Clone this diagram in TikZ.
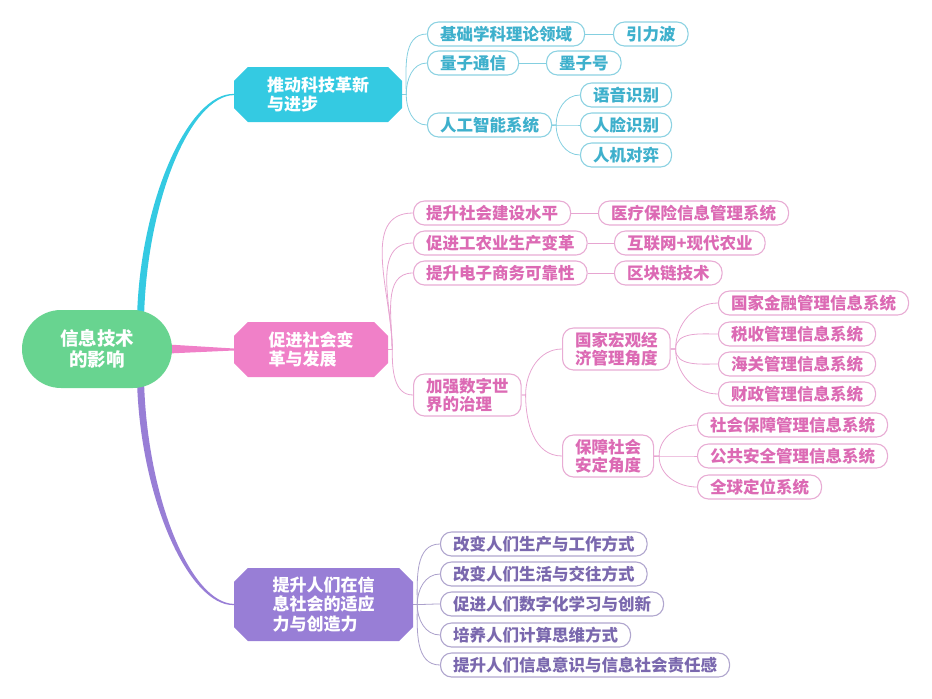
\documentclass[tikz,border=0pt]{standalone}
\usepackage{fontspec}
\usepackage{xcolor}
\usepackage{tikz}
\usetikzlibrary{shapes.misc,backgrounds}
\newfontfamily\cjk{Noto Sans CJK SC}
\definecolor{rootgreen}{RGB}{104,212,144}
\definecolor{cyanfill}{RGB}{52,202,226}
\definecolor{cyantext}{RGB}{62,176,204}
\definecolor{cyanedge}{RGB}{140,210,226}
\definecolor{pinkfill}{RGB}{240,128,200}
\definecolor{pinktext}{RGB}{220,106,180}
\definecolor{pinkedge}{RGB}{232,172,212}
\definecolor{purplefill}{RGB}{152,126,214}
\definecolor{purpletext}{RGB}{122,104,174}
\definecolor{purpleedge}{RGB}{176,166,206}

\begin{document}
\begin{tikzpicture}[x=1pt,y=1pt,
  leaf/.style={draw,rounded corners=11pt,fill=white,line width=1.1pt,anchor=west,
    inner xsep=12.5pt,inner ysep=2pt,minimum height=24pt,align=left,
    font=\cjk\bfseries\fontsize{16.5}{18}\selectfont},
  cyanleaf/.style={leaf,draw=cyanedge,text=cyantext},
  pinkleaf/.style={leaf,draw=pinkedge,text=pinktext},
  purpleleaf/.style={leaf,draw=purpleedge,text=purpletext},
  topic/.style={chamfered rectangle,chamfered rectangle xsep=11pt,inner xsep=4pt,
    text=white,align=left,minimum height=55pt,font=\cjk\bfseries\fontsize{17}{19.5}\selectfont},
  cyanlink/.style={draw=cyanedge!90!cyantext,line width=0.8pt},
  pinklink/.style={draw=pinkedge!90!pinktext,line width=0.8pt},
  purplelink/.style={draw=purpleedge!90!purpletext,line width=0.8pt}]
  \useasboundingbox (0,0) rectangle (932,-699);

  % centre and main topics
  \node[rounded corners=39pt,fill=rootgreen,text=white,minimum width=150pt,minimum height=78pt,
    align=center,font=\cjk\bfseries\fontsize{18.5}{20.5}\selectfont] (root) at (97,-349) {信息技术\\的影响};
  \node[topic,fill=cyanfill,minimum width=168pt] (t1) at (318,-94.5) {推动科技革新\\与进步};
  \node[topic,fill=pinkfill,minimum width=154pt] (t2) at (311,-349.5) {促进社会变\\革与发展};
  \node[topic,fill=purplefill,minimum width=179pt,minimum height=73pt] (t3) at (323.5,-604.5) {提升人们在信\\息社会的适应\\力与创造力};

  % science and technology
  \node[cyanleaf] (basic) at (427,-34) {基础学科理论领域};
  \node[cyanleaf] (gwave) at (613,-34) {引力波};
  \node[cyanleaf] (quantum) at (427,-63) {量子通信};
  \node[cyanleaf] (mozi) at (546,-63) {墨子号};
  \node[cyanleaf] (ai) at (427,-125) {人工智能系统};
  \node[cyanleaf] (voice) at (580,-95) {语音识别};
  \node[cyanleaf] (face) at (580,-125) {人脸识别};
  \node[cyanleaf] (chess) at (580,-155) {人机对弈};

  % society
  \node[pinkleaf] (build) at (413,-213) {提升社会建设水平};
  \node[pinkleaf] (medical) at (598,-213) {医疗保险信息管理系统};
  \node[pinkleaf] (agri) at (413,-243) {促进工农业生产变革};
  \node[pinkleaf] (internet) at (614,-243) {互联网+现代农业};
  \node[pinkleaf] (ecom) at (413,-273) {提升电子商务可靠性};
  \node[pinkleaf] (chain) at (614,-273) {区块链技术};
  \node[pinkleaf,minimum height=42pt] (govern) at (413,-395) {加强数字世\\界的治理};
  \node[pinkleaf,minimum height=42pt] (macro) at (562,-349) {国家宏观经\\济管理角度};
  \node[pinkleaf,minimum height=42pt] (secure) at (562,-456) {保障社会\\安定角度};
  \node[pinkleaf] (finance) at (718,-303) {国家金融管理信息系统};
  \node[pinkleaf] (tax) at (718,-334) {税收管理信息系统};
  \node[pinkleaf] (customs) at (718,-364) {海关管理信息系统};
  \node[pinkleaf] (fiscal) at (718,-394) {财政管理信息系统};
  \node[pinkleaf] (social) at (697,-425) {社会保障管理信息系统};
  \node[pinkleaf] (public) at (697,-456) {公共安全管理信息系统};
  \node[pinkleaf] (gps) at (697,-487) {全球定位系统};

  % people
  \node[purpleleaf] (work) at (440,-544) {改变人们生产与工作方式};
  \node[purpleleaf] (life) at (440,-574) {改变人们生活与交往方式};
  \node[purpleleaf] (learn) at (440,-604) {促进人们数字化学习与创新};
  \node[purpleleaf] (think) at (440,-635) {培养人们计算思维方式};
  \node[purpleleaf] (duty) at (440,-665) {提升人们信息意识与信息社会责任感};

  \begin{scope}[on background layer]
    % tapered main branches
    \fill[cyanfill] ([xshift=40pt,yshift=-8pt]root.north) .. controls +(3,118) and +(-45,1) .. ([yshift=0.6pt]t1.west)
      -- ([yshift=-0.6pt]t1.west) .. controls +(-43,-1) and +(3,118) .. ([xshift=47pt,yshift=-8pt]root.north) -- cycle;
    \fill[purplefill] ([xshift=40pt,yshift=8pt]root.south) .. controls +(3,-118) and +(-45,-1) .. ([yshift=-0.6pt]t3.west)
      -- ([yshift=0.6pt]t3.west) .. controls +(-43,1) and +(3,-118) .. ([xshift=47pt,yshift=8pt]root.south) -- cycle;
    \fill[pinkfill] ([xshift=-4pt,yshift=4.5pt]root.east) -- ([yshift=1pt]t2.west)
      -- ([yshift=-1pt]t2.west) -- ([xshift=-4pt,yshift=-4.5pt]root.east) -- cycle;

    % thin links
    \foreach \c/\o in {basic/90,quantum/90,ai/-90}
      \draw[cyanlink] (t1.east) -- ++(4,0) to[out=\o,in=180] (\c.west);
    \foreach \c/\o in {voice/90,face/0,chess/-90}
      \draw[cyanlink] (ai.east) -- ++(4,0) to[out=\o,in=180] (\c.west);
    \draw[cyanlink] (basic.east) -- (gwave.west);
    \draw[cyanlink] (quantum.east) -- (mozi.west);

    \foreach \c/\o in {build/90,agri/90,ecom/90,govern/-90}
      \draw[pinklink] (t2.east) -- ++(4,0) to[out=\o,in=180] (\c.west);
    \draw[pinklink] (build.east) -- (medical.west);
    \draw[pinklink] (agri.east) -- (internet.west);
    \draw[pinklink] (ecom.east) -- (chain.west);
    \foreach \c/\o in {macro/90,secure/-90}
      \draw[pinklink] (govern.east) -- ++(4,0) to[out=\o,in=180] (\c.west);
    \foreach \c/\o in {finance/90,tax/90,customs/-90,fiscal/-90}
      \draw[pinklink] (macro.east) -- ++(5,0) to[out=\o,in=180] (\c.west);
    \foreach \c/\o in {social/90,public/0,gps/-90}
      \draw[pinklink] (secure.east) -- ++(5,0) to[out=\o,in=180] (\c.west);

    \foreach \c/\o in {work/90,life/90,learn/0,think/-90,duty/-90}
      \draw[purplelink] (t3.east) -- ++(4,0) to[out=\o,in=180] (\c.west);
  \end{scope}
\end{tikzpicture}
\end{document}
